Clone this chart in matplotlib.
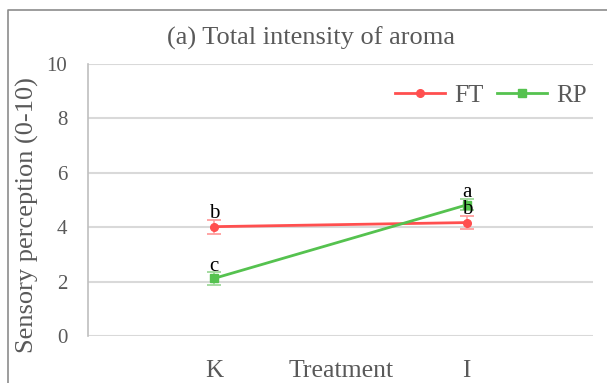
import matplotlib.pyplot as plt
from matplotlib.lines import Line2D

treatments = ["K", "I"]
ft_mean = [4.02, 4.17]
ft_err = [0.26, 0.25]
rp_mean = [2.12, 4.82]
rp_err = [0.23, 0.2]
ft_letters = ["b", "b"]
rp_letters = ["c", "a"]

plt.rcParams["font.family"] = ["Liberation Serif", "DejaVu Serif"]
grey = "#595959"
red = "#FF4F4F"
green = "#55C24F"

fig = plt.figure(figsize=(6.07, 3.83), dpi=100)
ax = fig.add_axes([88 / 607, 1 - 336 / 383, (593 - 88) / 607, (336 - 64) / 383])

x = list(range(len(treatments)))
ax.errorbar(x, ft_mean, yerr=ft_err, color=red, ecolor="#FF9E9E", elinewidth=1.2,
            capsize=5, capthick=1.3, lw=2, marker="o", ms=5.5, zorder=3)
ax.errorbar(x, rp_mean, yerr=rp_err, color=green, ecolor="#9ED99A", elinewidth=1.2,
            capsize=5, capthick=1.3, lw=2, marker="s", ms=5.5, zorder=3)

# significance letters above the points
ax.annotate(ft_letters[0], (x[0], ft_mean[0] + ft_err[0]), xytext=(0, -2.5),
            textcoords="offset points", ha="center", va="bottom", fontsize=15)
ax.annotate(rp_letters[0], (x[0], rp_mean[0] + rp_err[0]), xytext=(0, -3),
            textcoords="offset points", ha="center", va="bottom", fontsize=15)
ax.annotate(ft_letters[1], (x[1], ft_mean[1]), xytext=(0, 2.5),
            textcoords="offset points", ha="center", va="bottom", fontsize=15, zorder=4)
ax.annotate(rp_letters[1], (x[1], rp_mean[1] + rp_err[1]), xytext=(0, -2),
            textcoords="offset points", ha="center", va="bottom", fontsize=15)

ax.set_xlim(-0.5, 1.5)
ax.set_ylim(0, 10)
ax.set_yticks(range(0, 11, 2))
ax.set_xticks(x)
ax.set_xticklabels(treatments)
ax.grid(axis="y", color="#D9D9D9", lw=1.5)
ax.set_axisbelow(True)
for side in ["top", "right", "bottom"]:
    ax.spines[side].set_visible(False)
ax.spines["left"].set_color("#BFBFBF")
ax.spines["left"].set_linewidth(1.2)
ax.tick_params(axis="y", length=0, colors=grey, labelsize=15, pad=15)
ax.tick_params(axis="x", length=0, colors=grey, labelsize=18, pad=17)

fig.text(27 / 607, 1 - 215 / 383, "Sensory perception (0-10)", rotation=90,
         ha="center", va="center", fontsize=19, color=grey)
fig.text(341 / 607, 1 - 371 / 383, "Treatment", ha="center", va="center",
         fontsize=18.5, color=grey)
fig.text(311 / 607, 1 - 38 / 383, "(a) Total intensity of aroma", ha="center",
         va="center", fontsize=19, color=grey)

handles = [Line2D([], [], color=red, lw=2, marker="o", ms=5.5),
           Line2D([], [], color=green, lw=2, marker="s", ms=5.5)]
ax.legend(handles, ["FT", "RP"], loc="center", bbox_to_anchor=(491 / 607, 1 - 96 / 383),
          bbox_transform=fig.transFigure, ncol=2, frameon=False, fontsize=18,
          labelcolor=grey, handlelength=2.0, handletextpad=0.35, columnspacing=0.55)

# outer chart frame
fig.add_artist(Line2D([8 / 607, 8 / 607, 1], [0, 1 - 10 / 383, 1 - 10 / 383],
                      transform=fig.transFigure, color="#8C8C8C", lw=1.2))

fig.savefig("out.png", dpi=100)
